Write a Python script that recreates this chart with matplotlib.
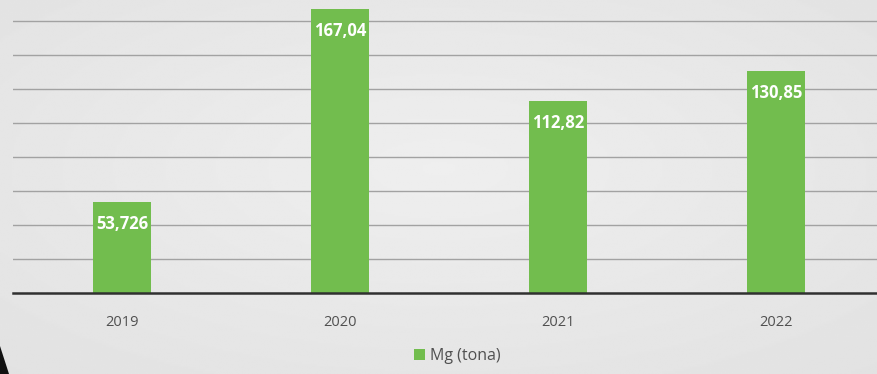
import numpy as np
import matplotlib
matplotlib.use("Agg")
import matplotlib.pyplot as plt
from matplotlib.patches import Polygon

years = ["2019", "2020", "2021", "2022"]
values = [53.726, 167.04, 112.82, 130.85]
labels = ["53,726", "167,04", "112,82", "130,85"]
series_name = "Mg (tona)"

plt.rcParams['font.family'] = ['Open Sans', 'DejaVu Sans']

W, H = 878, 374
fig = plt.figure(figsize=(W / 100, H / 100), dpi=100)

# background gradient
bg = fig.add_axes([0, 0, 1, 1], zorder=-10)
yy, xx = np.mgrid[0:1:200j, 0:1:400j]
r = np.sqrt(((xx - 0.5) / 0.9) ** 2 + ((yy - 0.45) / 0.9) ** 2)
img = 0.935 - 0.06 * r
bg.imshow(img, cmap="gray", vmin=0, vmax=1, extent=[0, 1, 0, 1], aspect="auto")
bg.set_axis_off()

ax = fig.add_axes([13 / W, (H - 293) / H, 1 - 13 / W, 293 / H])
ax.patch.set_alpha(0)
green = "#72bd4e"
x = np.arange(len(years))
bars = ax.bar(x, values, width=0.266, color=green, label=series_name, zorder=3)
ax.set_xlim(-0.5, 3.468)
ax.set_ylim(0, 172.35)
ax.set_yticks(np.arange(20, 161, 20))
ax.yaxis.grid(True, color="#a2a2a2", linewidth=1.0, zorder=0)
ax.tick_params(axis="y", left=False, labelleft=False)
ax.set_xticks(x)
ax.set_xticklabels(years, color="#505050", fontsize=10.5)
ax.tick_params(axis="x", length=0, pad=16)
for s in ["top", "right", "left"]:
    ax.spines[s].set_visible(False)
ax.spines["bottom"].set_color("#303030")
ax.spines["bottom"].set_linewidth(1.8)
ax.spines["bottom"].set_zorder(4)

for b, lab in zip(bars, labels):
    ax.annotate(lab, (b.get_x() + b.get_width() / 2, b.get_height()),
                xytext=(0, -22), textcoords="offset pixels",
                ha="center", va="center", color="white", fontweight="bold",
                fontsize=12, zorder=5)

leg = fig.legend(handles=[bars], labels=[series_name], loc="center",
                 bbox_to_anchor=(457 / W, 1 - 356 / H), frameon=False,
                 fontsize=11.5, handlelength=0.7, handleheight=0.7,
                 handletextpad=0.3, labelcolor="#505050")

fig.patches.append(Polygon([[0, 0], [0, 28 / H], [9 / W, 0]], closed=True,
                           transform=fig.transFigure, facecolor="#111111",
                           edgecolor="none", zorder=10))

fig.savefig("out.png", dpi=100)
